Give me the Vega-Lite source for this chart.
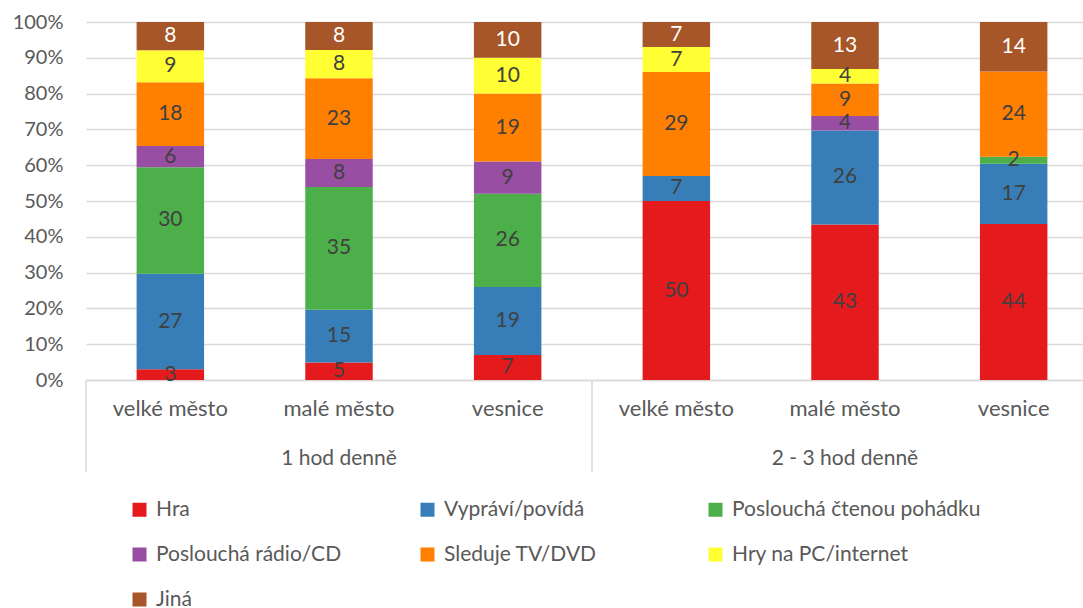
{
  "$schema": "https://vega.github.io/schema/vega-lite/v6.json",
  "autosize": {"type": "none"},
  "padding": {"left": 86, "top": 22, "right": 0, "bottom": 228},
  "width": 1012,
  "height": 358,
  "config": {
    "font": "Lato",
    "view": {"stroke": null},
    "axisY": {"tickCount": 20},
    "legend": {
      "orient": "none",
      "direction": "horizontal",
      "legendX": 43,
      "legendY": 477,
      "columns": 3,
      "gridAlign": "all",
      "symbolType": "square",
      "symbolSize": 196,
      "symbolStrokeWidth": 0,
      "labelFontSize": 21,
      "labelLimit": 500,
      "labelColor": "#595959",
      "labelOffset": 6,
      "rowPadding": 23,
      "columnPadding": 12,
      "padding": 0,
      "title": null
    }
  },
  "datasets": {
    "segments": [
      {"bar": "1|velké město", "cat": "Hra", "value": 3},
      {"bar": "1|velké město", "cat": "Vypráví/povídá", "value": 27},
      {"bar": "1|velké město", "cat": "Poslouchá čtenou pohádku", "value": 30},
      {"bar": "1|velké město", "cat": "Poslouchá rádio/CD", "value": 6},
      {"bar": "1|velké město", "cat": "Sleduje TV/DVD", "value": 18},
      {"bar": "1|velké město", "cat": "Hry na PC/internet", "value": 9},
      {"bar": "1|velké město", "cat": "Jiná", "value": 8},
      {"bar": "1|malé město", "cat": "Hra", "value": 5},
      {"bar": "1|malé město", "cat": "Vypráví/povídá", "value": 15},
      {"bar": "1|malé město", "cat": "Poslouchá čtenou pohádku", "value": 35},
      {"bar": "1|malé město", "cat": "Poslouchá rádio/CD", "value": 8},
      {"bar": "1|malé město", "cat": "Sleduje TV/DVD", "value": 23},
      {"bar": "1|malé město", "cat": "Hry na PC/internet", "value": 8},
      {"bar": "1|malé město", "cat": "Jiná", "value": 8},
      {"bar": "1|vesnice", "cat": "Hra", "value": 7},
      {"bar": "1|vesnice", "cat": "Vypráví/povídá", "value": 19},
      {"bar": "1|vesnice", "cat": "Poslouchá čtenou pohádku", "value": 26},
      {"bar": "1|vesnice", "cat": "Poslouchá rádio/CD", "value": 9},
      {"bar": "1|vesnice", "cat": "Sleduje TV/DVD", "value": 19},
      {"bar": "1|vesnice", "cat": "Hry na PC/internet", "value": 10},
      {"bar": "1|vesnice", "cat": "Jiná", "value": 10},
      {"bar": "2|velké město", "cat": "Hra", "value": 50},
      {"bar": "2|velké město", "cat": "Vypráví/povídá", "value": 7},
      {"bar": "2|velké město", "cat": "Poslouchá čtenou pohádku", "value": 0},
      {"bar": "2|velké město", "cat": "Poslouchá rádio/CD", "value": 0},
      {"bar": "2|velké město", "cat": "Sleduje TV/DVD", "value": 29},
      {"bar": "2|velké město", "cat": "Hry na PC/internet", "value": 7},
      {"bar": "2|velké město", "cat": "Jiná", "value": 7},
      {"bar": "2|malé město", "cat": "Hra", "value": 43},
      {"bar": "2|malé město", "cat": "Vypráví/povídá", "value": 26},
      {"bar": "2|malé město", "cat": "Poslouchá čtenou pohádku", "value": 0},
      {"bar": "2|malé město", "cat": "Poslouchá rádio/CD", "value": 4},
      {"bar": "2|malé město", "cat": "Sleduje TV/DVD", "value": 9},
      {"bar": "2|malé město", "cat": "Hry na PC/internet", "value": 4},
      {"bar": "2|malé město", "cat": "Jiná", "value": 13},
      {"bar": "2|vesnice", "cat": "Hra", "value": 44},
      {"bar": "2|vesnice", "cat": "Vypráví/povídá", "value": 17},
      {"bar": "2|vesnice", "cat": "Poslouchá čtenou pohádku", "value": 2},
      {"bar": "2|vesnice", "cat": "Poslouchá rádio/CD", "value": 0},
      {"bar": "2|vesnice", "cat": "Sleduje TV/DVD", "value": 24},
      {"bar": "2|vesnice", "cat": "Hry na PC/internet", "value": 0},
      {"bar": "2|vesnice", "cat": "Jiná", "value": 14}
    ],
    "separators": [
      {"bar": "1|velké město"},
      {"bar": "2|velké město"}
    ],
    "groups": [
      {"bar": "1|malé město", "group": "1 hod denně"},
      {"bar": "2|malé město", "group": "2 - 3 hod denně"}
    ]
  },
  "layer": [
    {
      "data": {"name": "segments"},
      "transform": [
        {"filter": "datum.value > 0"},
        {"stack": "value", "groupby": ["bar"], "offset": "normalize", "as": ["y0", "y1"]}
      ],
      "mark": {"type": "bar", "width": {"band": 0.4}},
      "encoding": {
        "x": {
          "field": "bar",
          "type": "nominal",
          "title": null,
          "scale": {
            "domain": ["1|velké město", "1|malé město", "1|vesnice", "2|velké město", "2|malé město", "2|vesnice"],
            "paddingInner": 0,
            "paddingOuter": 0
          },
          "axis": {
            "labelExpr": "split(datum.label, '|')[1]",
            "labelAngle": 0,
            "labelFontSize": 22,
            "labelColor": "#595959",
            "labelPadding": 18,
            "ticks": false,
            "domainColor": "#d9d9d9",
            "domainWidth": 1.5
          }
        },
        "y": {
          "field": "y0",
          "type": "quantitative",
          "title": null,
          "scale": {"domain": [0, 1], "nice": false, "zero": false},
          "axis": {
            "values": [0, 0.1, 0.2, 0.3, 0.4, 0.5, 0.6, 0.7, 0.8, 0.9, 1],
            "tickCount": 20,
            "format": ".0%",
            "labelFontSize": 20,
            "labelColor": "#595959",
            "labelPadding": 23,
            "labelOverlap": false,
            "ticks": false,
            "domain": false,
            "gridColor": "#d9d9d9",
            "gridWidth": 1.5
          }
        },
        "y2": {"field": "y1"},
        "color": {
          "field": "cat",
          "type": "nominal",
          "sort": ["Hra", "Vypráví/povídá", "Poslouchá čtenou pohádku", "Poslouchá rádio/CD", "Sleduje TV/DVD", "Hry na PC/internet", "Jiná"],
          "scale": {
            "domain": ["Hra", "Vypráví/povídá", "Poslouchá čtenou pohádku", "Poslouchá rádio/CD", "Sleduje TV/DVD", "Hry na PC/internet", "Jiná"],
            "range": ["#e41a1c", "#377eb8", "#4daf4a", "#984ea3", "#ff7f00", "#ffff33", "#a65628"]
          }
        }
      }
    },
    {
      "data": {"name": "segments"},
      "transform": [
        {"filter": "datum.value > 0"},
        {"stack": "value", "groupby": ["bar"], "offset": "normalize", "as": ["y0", "y1"]},
        {"calculate": "(datum.y0 + datum.y1) / 2", "as": "mid"}
      ],
      "mark": {"type": "text", "fontSize": 21, "baseline": "middle", "align": "center"},
      "encoding": {
        "x": {"field": "bar", "type": "nominal", "title": null},
        "y": {
          "field": "mid",
          "type": "quantitative",
          "title": null,
          "axis": {
            "values": [0, 0.1, 0.2, 0.3, 0.4, 0.5, 0.6, 0.7, 0.8, 0.9, 1],
            "tickCount": 20,
            "format": ".0%",
            "labelFontSize": 20,
            "labelColor": "#595959",
            "labelPadding": 23,
            "labelOverlap": false,
            "ticks": false,
            "domain": false,
            "gridColor": "#d9d9d9",
            "gridWidth": 1.5
          }
        },
        "text": {"field": "value", "type": "quantitative"},
        "color": {
          "condition": {"test": "datum.cat === 'Jiná'", "value": "#ffffff"},
          "value": "#404040"
        }
      }
    },
    {
      "data": {"name": "separators"},
      "mark": {"type": "rule", "color": "#d9d9d9", "strokeWidth": 1.5},
      "encoding": {
        "x": {"field": "bar", "type": "nominal", "bandPosition": 0, "title": null},
        "y": {
          "datum": 0,
          "type": "quantitative",
          "title": null,
          "axis": {
            "values": [0, 0.1, 0.2, 0.3, 0.4, 0.5, 0.6, 0.7, 0.8, 0.9, 1],
            "tickCount": 20,
            "format": ".0%",
            "labelFontSize": 20,
            "labelColor": "#595959",
            "labelPadding": 23,
            "labelOverlap": false,
            "ticks": false,
            "domain": false,
            "gridColor": "#d9d9d9",
            "gridWidth": 1.5
          }
        },
        "y2": {"datum": -0.257}
      }
    },
    {
      "data": {"name": "groups"},
      "mark": {"type": "text", "fontSize": 21, "color": "#595959", "baseline": "middle", "align": "center"},
      "encoding": {
        "x": {"field": "bar", "type": "nominal", "title": null},
        "y": {
          "datum": -0.22,
          "type": "quantitative",
          "title": null,
          "axis": {
            "values": [0, 0.1, 0.2, 0.3, 0.4, 0.5, 0.6, 0.7, 0.8, 0.9, 1],
            "tickCount": 20,
            "format": ".0%",
            "labelFontSize": 20,
            "labelColor": "#595959",
            "labelPadding": 23,
            "labelOverlap": false,
            "ticks": false,
            "domain": false,
            "gridColor": "#d9d9d9",
            "gridWidth": 1.5
          }
        },
        "text": {"field": "group", "type": "nominal"}
      }
    }
  ]
}
